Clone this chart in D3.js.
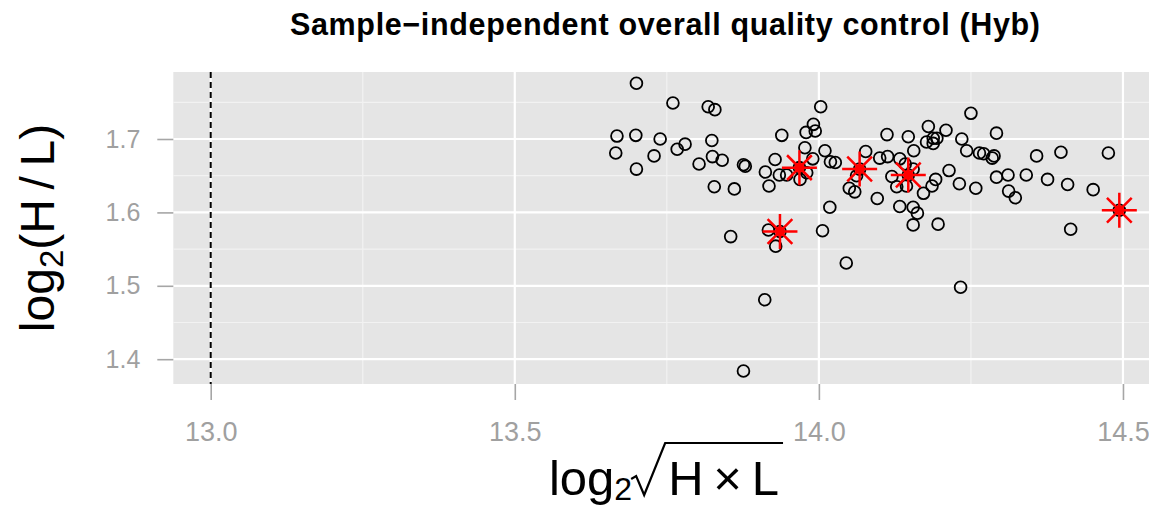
<!DOCTYPE html>
<html>
<head>
<meta charset="utf-8">
<script src="https://cdn.jsdelivr.net/npm/d3@7"></script>
<style>
  html, body { margin: 0; padding: 0; background: #fff; }
  svg { display: block; }
  text { font-family: "Liberation Sans", Arial, Helvetica, sans-serif; }
</style>
</head>
<body>
<svg id="chart" width="1149" height="508"></svg>
<script>
// Per-sample summary: x = log2 sqrt(H*L), y = log2(H/L)
const sampleX = [
  13.668, 13.666, 13.700, 13.699, 13.700, 13.739, 13.729, 13.760, 13.780, 13.767,
  13.803, 13.818, 13.829, 13.824, 13.825, 13.841, 13.876, 13.879, 13.828, 13.861,
  13.912, 13.928, 13.939, 13.918, 13.935, 13.947, 13.977, 13.979, 13.991, 13.994,
  13.990, 14.010, 14.019, 14.027, 14.018, 13.969, 13.980, 14.003, 13.917, 14.006,
  13.855, 13.929, 14.045, 13.911, 13.876,
  14.077, 14.100, 14.062, 14.050, 14.059, 14.096, 14.120, 14.250, 14.180, 14.209,
  14.112, 14.147, 14.188, 14.194, 14.177, 14.188, 14.235, 14.292, 14.243, 14.264,
  14.271, 14.288, 14.285, 14.113, 14.156, 14.133, 14.142, 14.155, 14.214, 14.192,
  14.186, 14.231, 14.258, 14.292, 14.311, 14.128, 14.172, 14.133, 14.155, 14.162,
  14.155, 14.196, 14.312, 14.323, 14.414, 14.233, 14.358, 14.398, 14.476, 14.341,
  14.376, 14.409, 14.451, 14.144,
  13.936, 13.968, 14.067, 14.147, 14.494
];
const sampleY = [
  1.704, 1.681, 1.776, 1.705, 1.659, 1.700, 1.677, 1.749, 1.693, 1.686,
  1.666, 1.744, 1.740, 1.698, 1.676, 1.671, 1.665, 1.663, 1.635, 1.632,
  1.655, 1.672, 1.705, 1.636, 1.651, 1.651, 1.688, 1.709, 1.720, 1.711,
  1.673, 1.684, 1.669, 1.668, 1.607, 1.645, 1.654, 1.744, 1.576, 1.575,
  1.567, 1.554, 1.531, 1.481, 1.384,
  1.683, 1.674, 1.650, 1.633, 1.628, 1.619, 1.649, 1.735, 1.717, 1.712,
  1.706, 1.703, 1.701, 1.701, 1.696, 1.694, 1.700, 1.708, 1.684, 1.681,
  1.680, 1.677, 1.674, 1.676, 1.684, 1.673, 1.666, 1.659, 1.657, 1.645,
  1.636, 1.639, 1.633, 1.648, 1.651, 1.635, 1.626, 1.608, 1.607, 1.599,
  1.583, 1.584, 1.629, 1.620, 1.577, 1.498, 1.677, 1.682, 1.681, 1.651,
  1.645, 1.638, 1.631, 1.636,
  1.574, 1.661, 1.659, 1.651, 1.603
];

// Samples flagged by the quality check
const flaggedX = [13.936, 13.968, 14.067, 14.147, 14.494];
const flaggedY = [1.574, 1.661, 1.659, 1.651, 1.603];

// Axis ticks and the intensity cut-off
const xTicks = [13.0, 13.5, 14.0, 14.5];
const yTicks = [1.4, 1.5, 1.6, 1.7];
const cutoffX = 13.0;

const titleText = "Sample\u2212independent overall quality control (Hyb)";

const svg = d3.select("#chart");
const panel = { left: 173.3, right: 1149, top: 72, bottom: 384 };

const x = d3.scaleLinear().domain([12.9385, 14.5428]).range([panel.left, panel.right]);
const y = d3.scaleLinear().domain([1.3662, 1.7913]).range([panel.bottom, panel.top]);

// minor breaks halfway between the majors
function minorBreaks(ticks, scale) {
  const step = ticks[1] - ticks[0];
  const [d0, d1] = scale.domain();
  const out = [];
  for (let v = ticks[0] - step / 2; v <= d1; v += step) {
    if (v >= d0) out.push(v);
  }
  return out;
}

// panel background
svg.append("rect")
  .attr("x", panel.left).attr("y", panel.top)
  .attr("width", panel.right - panel.left).attr("height", panel.bottom - panel.top)
  .attr("fill", "#e5e5e5");

const grid = svg.append("g");
minorBreaks(xTicks, x).forEach(v => {
  grid.append("line").attr("x1", x(v)).attr("x2", x(v))
    .attr("y1", panel.top).attr("y2", panel.bottom)
    .attr("stroke", "#f2f2f2").attr("stroke-width", 1.2);
});
minorBreaks(yTicks, y).forEach(v => {
  grid.append("line").attr("y1", y(v)).attr("y2", y(v))
    .attr("x1", panel.left).attr("x2", panel.right)
    .attr("stroke", "#f2f2f2").attr("stroke-width", 1.2);
});
xTicks.forEach(v => {
  grid.append("line").attr("x1", x(v)).attr("x2", x(v))
    .attr("y1", panel.top).attr("y2", panel.bottom)
    .attr("stroke", "#ffffff").attr("stroke-width", 2.2);
});
yTicks.forEach(v => {
  grid.append("line").attr("y1", y(v)).attr("y2", y(v))
    .attr("x1", panel.left).attr("x2", panel.right)
    .attr("stroke", "#ffffff").attr("stroke-width", 2.2);
});

// axes
const xAxis = d3.axisBottom(x).tickValues(xTicks).tickFormat(d3.format(".1f"))
  .tickSize(16).tickPadding(22);
const gx = svg.append("g").attr("transform", `translate(0,${panel.bottom})`).call(xAxis);
gx.select(".domain").remove();
gx.selectAll(".tick line").attr("stroke", "#a6a6a6").attr("stroke-width", 1.6);
gx.selectAll(".tick text").attr("fill", "#a0a0a0")
  .style("font-size", "27px").style("font-family", "'Liberation Sans', Arial, sans-serif");

const yAxis = d3.axisLeft(y).tickValues(yTicks).tickFormat(d3.format(".1f"))
  .tickSize(16).tickPadding(17);
const gy = svg.append("g").attr("transform", `translate(${panel.left},0)`).call(yAxis);
gy.select(".domain").remove();
gy.selectAll(".tick line").attr("stroke", "#a6a6a6").attr("stroke-width", 1.6);
gy.selectAll(".tick text").attr("fill", "#a0a0a0")
  .style("font-size", "25px").style("font-family", "'Liberation Sans', Arial, sans-serif");

// intensity cut-off
svg.append("line")
  .attr("x1", x(cutoffX)).attr("x2", x(cutoffX))
  .attr("y1", panel.top).attr("y2", panel.bottom)
  .attr("stroke", "#000").attr("stroke-width", 2)
  .attr("stroke-dasharray", "6,4");

// all samples as open circles
const pts = d3.range(sampleX.length).map(i => ({ x: sampleX[i], y: sampleY[i] }));
svg.append("g").selectAll("circle").data(pts).join("circle")
  .attr("cx", d => x(d.x)).attr("cy", d => y(d.y)).attr("r", 5.9)
  .attr("fill", "none").attr("stroke", "#000").attr("stroke-width", 1.8);

// flagged samples: red dot with an asterisk
const flagged = d3.range(flaggedX.length).map(i => ({ x: flaggedX[i], y: flaggedY[i] }));
const fg = svg.append("g");
fg.selectAll("circle").data(flagged).join("circle")
  .attr("cx", d => x(d.x)).attr("cy", d => y(d.y)).attr("r", 5)
  .attr("fill", "#ff0000");
const arm = 17.5;
const starPath = d3.path();
[0, 45, 90, 135].forEach(a => {
  const r = a * Math.PI / 180;
  starPath.moveTo(-arm * Math.cos(r), -arm * Math.sin(r));
  starPath.lineTo(arm * Math.cos(r), arm * Math.sin(r));
});
fg.selectAll("path").data(flagged).join("path")
  .attr("transform", d => `translate(${x(d.x)},${y(d.y)})`)
  .attr("d", starPath.toString())
  .attr("stroke", "#ff0000").attr("stroke-width", 2.5).attr("fill", "none");

// title
svg.append("text")
  .attr("x", 665).attr("y", 35)
  .attr("text-anchor", "middle")
  .attr("font-weight", "bold").attr("font-size", 30.5)
  .attr("textLength", 750).attr("lengthAdjust", "spacing")
  .attr("fill", "#000")
  .text(titleText);

// y title: log2(H/L)
const yt = svg.append("text")
  .attr("transform", `translate(54,${(panel.top + panel.bottom) / 2}) rotate(-90)`)
  .attr("text-anchor", "middle").attr("font-size", 48).attr("fill", "#000");
yt.append("tspan").text("log");
yt.append("tspan").attr("font-size", 33).attr("dy", 9).text("2");
yt.append("tspan").attr("dy", -9).text("(H\u2009/\u2009L)");

// x title: log2 sqrt(H x L)
const xt = svg.append("g");
const base = 495;
const fs = 49;
const t1 = xt.append("text").attr("x", 0).attr("y", base).attr("font-size", fs).text("log");
let cx = t1.node().getComputedTextLength();
const t2 = xt.append("text").attr("x", cx).attr("y", base + 5).attr("font-size", 32).text("2");
cx += t2.node().getComputedTextLength() + 1;
const rad = xt.append("path");
const hx = cx + 35;
const t3 = xt.append("text").attr("x", hx).attr("y", base).attr("font-size", fs)
  .text("H\u2009\u00d7\u2009L");
const endX = hx + t3.node().getComputedTextLength() + 4;
const topY = base - 52;
rad.attr("d", `M${cx - 2},${base - 16} L${cx + 3},${base - 19} L${cx + 11},${base} L${cx + 32},${topY} L${endX},${topY}`)
  .attr("fill", "none").attr("stroke", "#000").attr("stroke-width", 2.2)
  .attr("stroke-linejoin", "miter");
xt.attr("transform", `translate(${666 - endX / 2},0)`);
</script>
</body>
</html>
